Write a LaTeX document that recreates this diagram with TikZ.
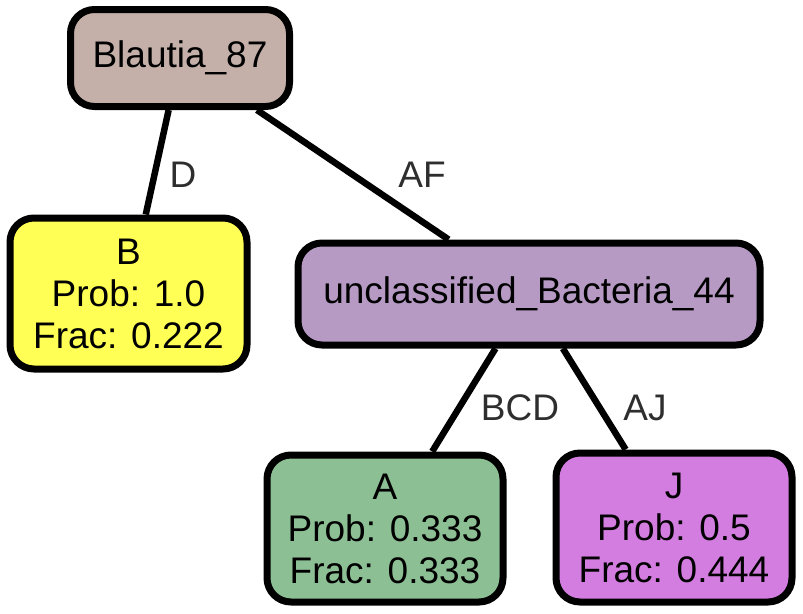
\documentclass[tikz,border=0pt]{standalone}
\usepackage{fontspec}
\setmainfont{Liberation Sans}
\definecolor{cblautia}{HTML}{C4B0A9}
\definecolor{cB}{HTML}{FFFF55}
\definecolor{cunc}{HTML}{B69AC4}
\definecolor{cA}{HTML}{8DBF95}
\definecolor{cJ}{HTML}{D47DE0}
\definecolor{labelgray}{HTML}{2E2E2E}
\tikzset{
  treebox/.style={draw=black, line width=7pt, rounded corners=24pt, inner sep=0pt,
    align=center, font=\fontsize{37}{42}\selectfont},
  edgeline/.style={draw=black, line width=6.5pt},
  edgelabel/.style={text=labelgray, inner sep=0pt, font=\fontsize{37}{42}\selectfont}
}
\begin{document}
\begin{tikzpicture}[x=1pt,y=-1pt]
\useasboundingbox (0,0) rectangle (803,613);
\node[treebox, fill=cblautia, minimum width=219pt, minimum height=97pt] (blautia) at (180,58) {Blautia\_87};
\node[treebox, fill=cB, minimum width=237pt, minimum height=151pt] (b) at (128.5,293.5) {B\\Prob: 1.0\\Frac: 0.222};
\node[treebox, fill=cunc, minimum width=462pt, minimum height=102pt] (unc) at (529,294) {unclassified\_Bacteria\_44};
\node[treebox, fill=cA, minimum width=236pt, minimum height=147pt] (a) at (385,528.5) {A\\Prob: 0.333\\Frac: 0.333};
\node[treebox, fill=cJ, minimum width=236pt, minimum height=149pt] (j) at (674,527.5) {J\\Prob: 0.5\\Frac: 0.444};
\draw[edgeline] (blautia) -- (b);
\draw[edgeline] (blautia) -- (unc);
\draw[edgeline] (unc) -- (a);
\draw[edgeline] (unc) -- (j);
\node[edgelabel] (ld) at (183,175) {D};
\node[edgelabel] (laf) at (422,175) {AF};
\node[edgelabel] (lbcd) at (520,408) {BCD};
\node[edgelabel] (laj) at (645,408) {AJ};
\end{tikzpicture}
\end{document}
